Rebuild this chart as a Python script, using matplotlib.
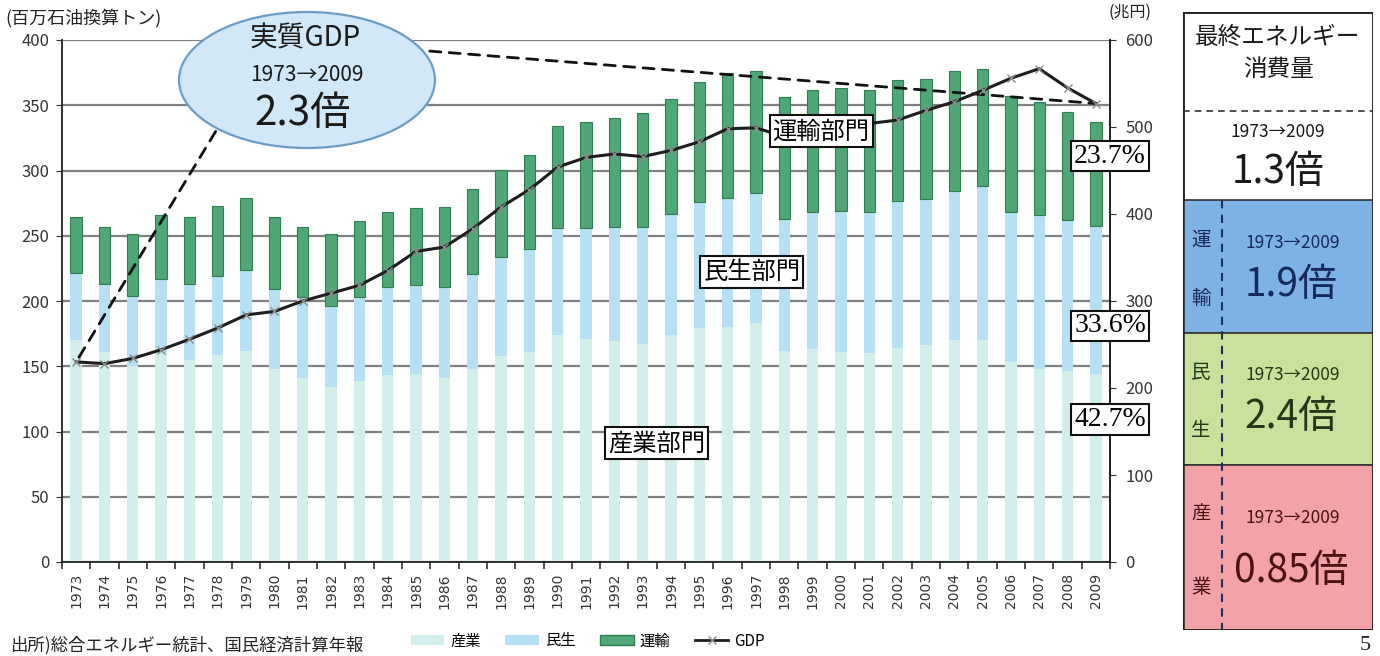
import numpy as np
import matplotlib
matplotlib.use("Agg")
import matplotlib.pyplot as plt
from matplotlib.patches import Ellipse, Rectangle
from matplotlib.lines import Line2D

plt.rcParams["font.family"] = ["Noto Sans CJK JP", "DejaVu Sans"]

years = list(range(1973, 2010))

# final energy consumption by sector (million t oil equivalent)
sangyo = [170, 161, 150, 160, 155, 159, 162, 148, 141, 134, 139, 143, 144,
          141, 148, 158, 161, 174, 171, 169, 167, 174, 179, 180, 183, 162,
          163, 161, 160, 164, 166, 170, 170, 153, 148, 146, 144]
minsei = [51.5, 52, 54, 57, 58, 60, 62, 61, 62, 62, 64, 68, 68,
          70, 73, 76, 79, 82, 85, 88, 90, 93, 97, 99, 100, 101,
          105, 108, 108, 113, 112, 114, 118, 115, 118, 116, 113.4]
unyu = [43, 43.5, 47, 49, 51, 54, 55, 55, 54, 55, 58, 57, 59.5,
        61, 64.5, 66.5, 72, 78, 81.5, 83.5, 87, 88, 92, 96, 93, 93,
        94, 94, 94, 92.5, 92, 92, 90, 89, 86.5, 82.5, 80]
# real GDP (trillion yen)
gdp = [230, 228, 234, 244, 256, 269, 284, 288, 300, 309, 318, 335, 357,
       362, 383, 408, 428, 454, 465, 469, 466, 473, 483, 498, 499, 489,
       489, 501, 504, 508, 519, 529, 542, 556, 567, 545, 527]

sector_names = ["産業", "民生", "運輸"]
C_IND = "#d3efec"
C_RES = "#b6e0f4"
C_TRN = "#4fa676"

fig = plt.figure(figsize=(13.8, 6.56), dpi=100)
W, H = 1380, 656


def fx(px):
    return px / W


def fy(py):
    return 1 - py / H


ax = fig.add_axes([fx(62), fy(562), fx(1110 - 62), (562 - 40) / H])
x = np.arange(len(years))
s = np.array(sangyo)
m = np.array(minsei)
u = np.array(unyu)

ax.bar(x, s, width=0.4, color=C_IND, zorder=2)
ax.bar(x, m, width=0.4, bottom=s, color=C_RES, zorder=2)
ax.bar(x, u, width=0.4, bottom=s + m, color=C_TRN, edgecolor="#2f7f50",
       linewidth=0.8, zorder=2)

ax.set_xlim(-0.46, len(years) - 0.54)
ax.set_ylim(0, 400)
ax.set_yticks(range(0, 401, 50))
ax.yaxis.grid(True, color="#808080", linewidth=1.6)
ax.set_axisbelow(True)
ax.tick_params(axis="y", labelsize=12, colors="#333333", length=4, pad=5)
ax.set_xticks(x)
ax.set_xticklabels([str(y) for y in years], rotation=90, fontsize=10,
                   color="#333333", family="DejaVu Sans")
ax.set_xticks(np.arange(-0.5, len(years), 1.0), minor=True)
ax.tick_params(axis="x", which="major", length=0, pad=8)
ax.tick_params(axis="x", which="minor", length=5, width=1.2, color="#333333")
ax.spines["top"].set_visible(False)
for sp in ("left", "bottom", "right"):
    ax.spines[sp].set_color("#222222")
    ax.spines[sp].set_linewidth(1.3)

ax2 = ax.twinx()
ax2.set_ylim(0, 600)
ax2.set_yticks(range(0, 601, 100))
ax2.tick_params(axis="y", labelsize=12, colors="#333333", length=4, pad=7)
for sp in ("top", "left", "bottom"):
    ax2.spines[sp].set_visible(False)
ax2.spines["right"].set_color("#222222")
ax2.spines["right"].set_linewidth(1.3)
ax2.plot(x, gdp, color="#1e1e1e", lw=2.2, marker="x", ms=6, mec="#8a8a8a",
         mew=1.0, zorder=4)

# dashed leaders from the GDP endpoints to the callout bubble
dash = dict(arrowstyle="-", linestyle=(0, (4, 3)), color="#111111", lw=2,
            shrinkA=0, shrinkB=0)
ax2.annotate("", xy=(x[0], gdp[0]), xytext=(5.28, 514), arrowprops=dash,
             annotation_clip=False)
ax2.annotate("", xy=(x[-1], gdp[-1]), xytext=(11.8, 589), arrowprops=dash,
             annotation_clip=False)

fig.add_artist(Ellipse((fx(307), fy(80)), fx(256), 136 / H,
                       transform=fig.transFigure, facecolor="#d0e8f7",
                       edgecolor="#6a9cc8", linewidth=1.6, zorder=1))
fig.text(fx(305), fy(38), "実質GDP", ha="center", va="center", fontsize=20,
         color="#1a1a1a")
fig.text(fx(307), fy(75), "1973→2009", ha="center", va="center", fontsize=15,
         color="#1a1a1a")
fig.text(fx(303), fy(114), "2.3倍", ha="center", va="center", fontsize=29,
         color="#1a1a1a")

box = dict(boxstyle="square,pad=0.12", facecolor="white", edgecolor="#111111",
           linewidth=1.5)
for label, (lx, ly) in zip(["運輸部門", "民生部門", "産業部門"],
                           [(26.3, 330), (23.85, 222), (20.5, 91)]):
    ax2.text(lx, ly, label, transform=ax.transData, ha="center", va="center",
             fontsize=17.5, bbox=box, zorder=6)

total09 = s[-1] + m[-1] + u[-1]
shares = [u[-1], m[-1], s[-1]]
for val, ly in zip(shares, [311, 181, 109]):
    ax2.text(36.5, ly, f"{val / total09 * 100:.1f}%", transform=ax.transData,
             ha="center", va="center", fontsize=20, family="Liberation Serif",
             bbox=dict(boxstyle="square,pad=0.1", facecolor="white",
                       edgecolor="#111111", linewidth=1.5),
             zorder=6, clip_on=False)

fig.text(fx(5), fy(18), "(百万石油換算トン)", ha="left", va="center",
         fontsize=13, color="#222222")
fig.text(fx(1108), fy(12), "(兆円)", ha="left", va="center", fontsize=11.5,
         color="#222222")
fig.text(fx(10), fy(645), "出所)総合エネルギー統計、国民経済計算年報", ha="left",
         va="center", fontsize=12.5, color="#222222")
fig.text(fx(1365), fy(645), "5", ha="center", va="center", fontsize=16,
         family="Liberation Serif", color="#222222")

handles = [Rectangle((0, 0), 1, 1, facecolor=C_IND),
           Rectangle((0, 0), 1, 1, facecolor=C_RES),
           Rectangle((0, 0), 1, 1, facecolor=C_TRN, edgecolor="#2f7f50"),
           Line2D([], [], color="#1e1e1e", lw=2, marker="x", ms=6,
                  mec="#8a8a8a")]
fig.legend(handles, sector_names + ["GDP"], loc="center",
           bbox_to_anchor=(fx(588), fy(641)), ncol=4, frameon=False,
           fontsize=11, handlelength=2.2, handleheight=0.6, columnspacing=1.6,
           handletextpad=0.4)

# summary panel on the right
pn = fig.add_axes([fx(1183), fy(630), fx(190), 618 / H])
pn.set_xlim(0, 190)
pn.set_ylim(630, 12)
pn.axis("off")
sections = [(200, 333, "#7fb2e4", "#17285a", "運", "輸", "1.9倍"),
            (333, 465, "#c9e19c", "#22381a", "民", "生", "2.4倍"),
            (465, 630, "#f3a2a8", "#4a1212", "産", "業", "0.85倍")]
pn.add_patch(Rectangle((0, 12), 190, 618, facecolor="white",
                       edgecolor="#222222", lw=1.8, zorder=1))
for top, bot, fc, tc, c1, c2, ratio in sections:
    pn.add_patch(Rectangle((0, top), 190, bot - top, facecolor=fc,
                           edgecolor="#333333", lw=1.2, zorder=2))
    pn.text(18, top + 0.3 * (bot - top), c1, ha="center", va="center",
            fontsize=14, color=tc, zorder=4)
    pn.text(18, top + 0.74 * (bot - top), c2, ha="center", va="center",
            fontsize=14, color=tc, zorder=4)
    pn.text(110, top + 0.32 * (bot - top), "1973→2009", ha="center",
            va="center", fontsize=12.5, color=tc, zorder=4)
    pn.text(108, top + 0.64 * (bot - top), ratio, ha="center", va="center",
            fontsize=28, color=tc, zorder=4)
pn.add_patch(Rectangle((0, 12), 190, 618, facecolor="none",
                       edgecolor="#222222", lw=1.8, zorder=5))
pn.plot([0, 190], [111, 111], color="#333333", lw=1.2, ls=(0, (4, 3)),
        zorder=3)
pn.plot([39, 39], [200, 630], color="#1f3060", lw=1.5, ls=(0, (4, 3)),
        zorder=3)
pn.text(95, 37, "最終エネルギー", ha="center", va="center", fontsize=17,
        color="#1a1a1a", zorder=4)
pn.text(95, 70, "消費量", ha="center", va="center", fontsize=17,
        color="#1a1a1a", zorder=4)
pn.text(95, 132, "1973→2009", ha="center", va="center", fontsize=12.5,
        color="#1a1a1a", zorder=4)
pn.text(95, 172, "1.3倍", ha="center", va="center", fontsize=28,
        color="#1a1a1a", zorder=4)

fig.savefig("out.png", dpi=100)
